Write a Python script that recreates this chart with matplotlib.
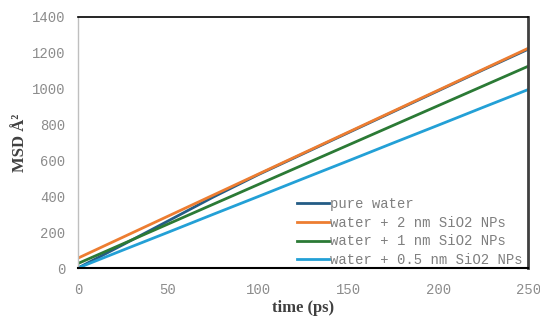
import matplotlib.pyplot as plt

time_ps = [0, 25, 50, 75, 100, 125, 150, 175, 200, 225, 250]

pure_water = [0, 130, 262, 395, 520, 637, 754, 871, 988, 1105, 1220]
sio2_2nm = [55, 172, 289, 406, 523, 640, 757, 874, 991, 1108, 1225]
sio2_1nm = [25, 135, 245, 355, 465, 575, 685, 795, 905, 1015, 1125]
sio2_05nm = [0, 100, 199, 299, 398, 498, 597, 697, 796, 896, 995]

labels = [
    "pure water",
    "water + 2 nm SiO2 NPs",
    "water + 1 nm SiO2 NPs",
    "water + 0.5 nm SiO2 NPs",
]
colors = ["#245C85", "#ED7D31", "#2B7A35", "#23A0D6"]

fig = plt.figure(figsize=(5.4, 3.2), dpi=100)
ax = fig.add_axes([0.1444, 0.1625, 0.8336, 0.7845])

for ys, lab, col in zip([pure_water, sio2_2nm, sio2_1nm, sio2_05nm], labels, colors):
    ax.plot(time_ps, ys, color=col, linewidth=2, label=lab)

ax.set_xlim(0, 250)
ax.set_ylim(0, 1400)
ax.set_xticks(range(0, 251, 50))
ax.set_yticks(range(0, 1401, 200))
ax.tick_params(length=0, labelsize=10, labelcolor="#8C8C8C")
ax.tick_params(axis="x", pad=11)
ax.tick_params(axis="y", pad=9)
for t in ax.get_xticklabels() + ax.get_yticklabels():
    t.set_family("Liberation Mono")

ax.spines["left"].set_color("#BFBFBF")
ax.spines["left"].set_linewidth(1)
ax.spines["top"].set_color("black")
ax.spines["top"].set_linewidth(1.2)
ax.spines["bottom"].set_color("black")
ax.spines["bottom"].set_linewidth(1.5)
ax.spines["right"].set_color("#404040")
ax.spines["right"].set_linewidth(2)

ax.set_xlabel("time (ps)", family="Liberation Serif", fontweight="bold",
              fontsize=12, color="#404040", labelpad=2)
ax.set_ylabel("MSD Å²", family="Liberation Serif", fontweight="bold",
              fontsize=12, color="#404040", labelpad=3)

leg = ax.legend(loc="lower right", frameon=False, handlelength=2.3,
                handletextpad=0.1, labelspacing=0.35, borderaxespad=0.0,
                borderpad=0.05, bbox_to_anchor=(0.99, 0.0),
                prop={"family": "Liberation Mono", "size": 10})
for t in leg.get_texts():
    t.set_color("#7F7F7F")

fig.savefig("out.png", dpi=100)
